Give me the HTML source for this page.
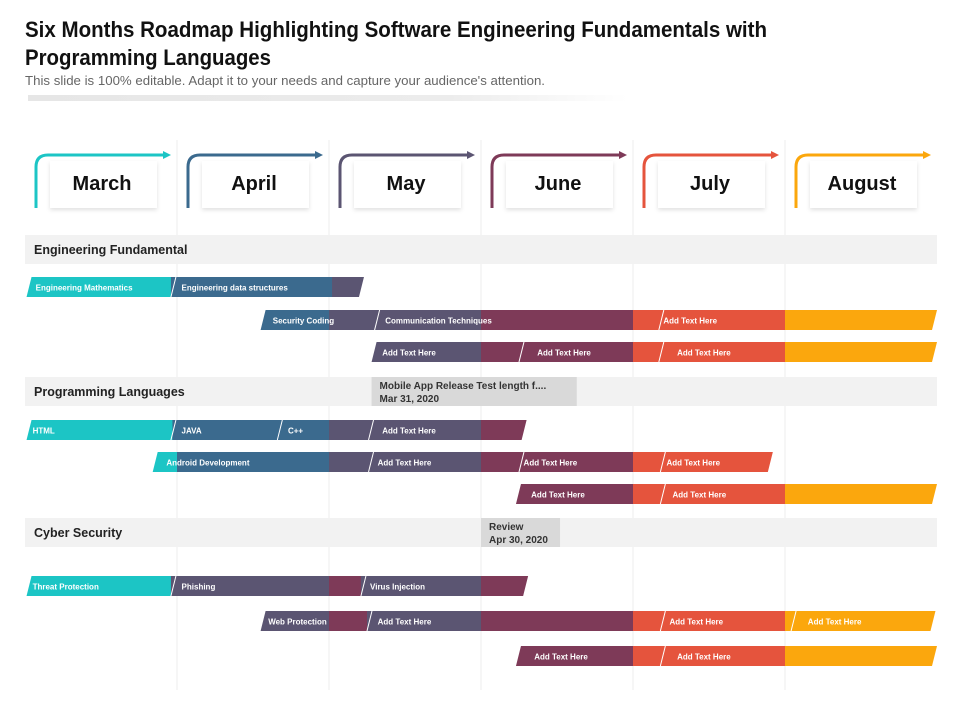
<!DOCTYPE html>
<html><head><meta charset="utf-8">
<style>
html,body{margin:0;padding:0;background:#fff;}
svg{display:block;font-family:"Liberation Sans Narrow","Liberation Sans",sans-serif;}
</style></head>
<body>
<svg id="chart" width="960" height="720" viewBox="0 0 960 720" xmlns="http://www.w3.org/2000/svg">
<defs>
<linearGradient id="shadowGrad" x1="0" x2="1" y1="0" y2="0">
<stop offset="0" stop-color="#e6e6e6"/><stop offset="0.7" stop-color="#ececec"/><stop offset="1" stop-color="#ffffff"/>
</linearGradient>
<filter id="cardShadow" x="-20%" y="-20%" width="140%" height="150%">
<feDropShadow dx="0" dy="2" stdDeviation="2" flood-color="#000" flood-opacity="0.12"/>
</filter>
</defs>
<g>
<text x="25" y="37" font-size="22" font-weight="bold" fill="#111" textLength="742" lengthAdjust="spacingAndGlyphs">Six Months Roadmap Highlighting Software Engineering Fundamentals with</text>
<text x="25" y="65" font-size="22" font-weight="bold" fill="#111" textLength="246" lengthAdjust="spacingAndGlyphs">Programming Languages</text>
<text x="25" y="85" font-size="12.5" fill="#666" textLength="520" lengthAdjust="spacingAndGlyphs">This slide is 100% editable. Adapt it to your needs and capture your audience's attention.</text>
<rect x="28" y="95" width="600" height="6" fill="url(#shadowGrad)"/>
</g>
<g id="grid"></g>
<g id="headers"></g>
<g id="bands"></g>
<g id="bars"></g>
</svg>
<script>
const months = ["March","April","May","June","July","August"];
const monthColors = ["#1cc5c5","#3b6a8e","#5b5572","#7e3a58","#e5543d","#fba70d"];
const bandTitles = ["Engineering  Fundamental","Programming Languages","Cyber Security"];
const bandY = [235,377,518];
const milestoneText1 = ["Mobile App Release Test length f....","Review"];
const milestoneText2 = ["Mar 31, 2020","Apr 30, 2020"];
const milestoneBand = [1,2];
const milestoneStart = [2.28,3.0];
const milestoneEnd = [3.63,3.52];
const barY = [277,310,342,420,452,484,576,611,646];
const barStart = [0.01,1.55,2.28,0.01,0.84,3.23,0.01,1.55,3.23];
const barEnd   = [2.23,6.0,6.0,3.30,4.92,6.0,3.31,5.99,6.0];
// Segment colour overrides: null = colour by month column; else [startMonth, colourIndex] list
const barSegments = [
 [[0,0],[0.96,1],[2.02,2]],
 null, null,
 [[0,0],[0.97,1],[2,2],[3,3]],
 null, null,
 [[0,0],[0.96,2],[2,3],[2.21,2],[3,3]],
 [[0,2],[2,3],[2.25,2],[3,3],[4,4],[5,5]],
 null
];
const barSlashes = [[0.96],[2.30,4.17],[3.25,4.17],[0.96,1.66,2.26],[2.26,3.25,4.18],[4.18],[0.96,2.21],[2.25,4.18,5.04],[4.18]];
const barLabels = [
 [[0.07,"Engineering Mathematics"],[1.03,"Engineering data structures"]],
 [[1.63,"Security Coding"],[2.37,"Communication Techniques"],[4.2,"Add Text Here"]],
 [[2.35,"Add Text Here"],[3.37,"Add Text Here"],[4.29,"Add Text Here"]],
 [[0.05,"HTML"],[1.03,"JAVA"],[1.73,"C++"],[2.35,"Add Text Here"]],
 [[0.93,"Android Development"],[2.32,"Add Text Here"],[3.28,"Add Text Here"],[4.22,"Add Text Here"]],
 [[3.33,"Add Text Here"],[4.26,"Add Text Here"]],
 [[0.05,"Threat Protection"],[1.03,"Phishing"],[2.27,"Virus Injection"]],
 [[1.6,"Web Protection"],[2.32,"Add Text Here"],[4.24,"Add Text Here"],[5.15,"Add Text Here"]],
 [[3.35,"Add Text Here"],[4.29,"Add Text Here"]]
];
const X0 = 25, MW = 152, BH = 20, SK = 5;
const xs = m => X0 + m*MW;
const NS = "http://www.w3.org/2000/svg";
function mk(tag, attrs, parent){const e=document.createElementNS(NS,tag);for(const k in attrs)e.setAttribute(k,attrs[k]);parent.appendChild(e);return e;}

const grid = document.getElementById('grid');
for(let i=1;i<months.length;i++){
  const l = mk('line',{x1:xs(i),x2:xs(i),y1:140,y2:690,stroke:"#eeeeee","stroke-width":1},grid);
  
  
}
const headers = document.getElementById('headers');
months.forEach((m,i)=>{
  const g = mk('g',{},headers);
  
  
  const bx = xs(i);
  const p = mk('path',{d:`M${bx+11},208 L${bx+11},167 Q${bx+11},155 ${bx+23},155 L${bx+140},155`,fill:"none",stroke:monthColors[i],"stroke-width":3},g);
  
  
  const a = mk('polygon',{points:`${bx+138},151 ${bx+146},155 ${bx+138},159`,fill:monthColors[i]},g);
  
  
  const c = mk('rect',{x:bx+25,y:161,width:107,height:47,fill:"#fff",filter:"url(#cardShadow)"},g);
  
  
  const t = mk('text',{x:bx+77,y:190,"text-anchor":"middle","font-size":20,"font-weight":"bold",fill:"#111"},g);
  t.textContent = m;
  
  
});
const bands = document.getElementById('bands');
bandTitles.forEach((bt,i)=>{
  const r = mk('rect',{x:25,y:bandY[i],width:912,height:29,fill:"#f2f2f2"},bands);
  
  
  const t = mk('text',{x:34,y:bandY[i]+19,"font-size":12.5,"font-weight":"bold",fill:"#222"},bands);
  t.textContent = bt;
  
  
});
milestoneText1.forEach((mt,i)=>{
  const y = bandY[milestoneBand[i]];
  const x1 = xs(milestoneStart[i]), x2 = xs(milestoneEnd[i]);
  const r = mk('rect',{x:x1,y:y,width:x2-x1,height:29,fill:"#d9d9d9"},bands);
  
  
  const t1 = mk('text',{x:x1+8,y:y+12,"font-size":10,"font-weight":"bold",fill:"#333"},bands);
  t1.textContent = mt;
  
  
  const t2 = mk('text',{x:x1+8,y:y+25,"font-size":10,"font-weight":"bold",fill:"#333"},bands);
  t2.textContent = milestoneText2[i];
  
  
});
const bars = document.getElementById('bars');
const defs = document.querySelector('defs');
barY.forEach((y,i)=>{
  const g = mk('g',{},bars);
  
  
  const a = xs(barStart[i]), b = xs(barEnd[i]);
  const cp = mk('clipPath',{id:'clip'+i},defs);
  mk('polygon',{points:`${a+SK},${y} ${b},${y} ${b-SK},${y+BH} ${a},${y+BH}`},cp);
  const segs = mk('g',{"clip-path":`url(#clip${i})`},g);
  let list = barSegments[i];
  if(!list){ list = months.map((_,k)=>[k,k]); }
  list.forEach((sg,k)=>{
    const sx = xs(sg[0]);
    const ex = k+1<list.length ? xs(list[k+1][0]) : xs(6);
    const s = mk('rect',{x:sx,y:y,width:ex-sx+0.5,height:BH,fill:monthColors[sg[1]]},segs);
    
    
  });
  barSlashes[i].forEach(sm=>{
    const sx = xs(sm);
    const l = mk('line',{x1:sx+SK,y1:y,x2:sx,y2:y+BH,stroke:"#fff","stroke-width":1},segs);
    
    
  });
  barLabels[i].forEach(lb=>{
    const t = mk('text',{x:xs(lb[0]),y:y+13.5,"font-size":8,"font-weight":"bold",fill:"#fff"},g);
    t.textContent = lb[1];
    
    
  });
});
</script>
</body></html>
